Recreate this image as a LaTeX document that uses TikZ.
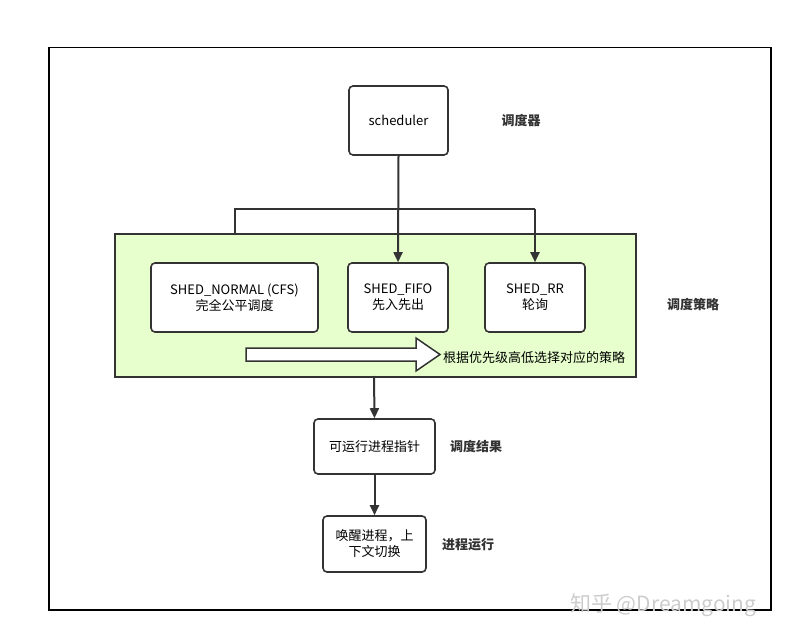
\documentclass[tikz,border=0pt]{standalone}
\usepackage{fontspec}
\setmainfont{Noto Sans CJK SC}
\usetikzlibrary{arrows.meta}
\definecolor{lineC}{HTML}{333333}
\definecolor{greenF}{HTML}{E6FFCC}
\begin{document}
\begin{tikzpicture}[x=1pt,y=-1pt,
  box/.style={draw=lineC,line width=1.6pt,rounded corners=4pt,fill=white,align=center,font=\fontsize{13}{16}\selectfont,inner sep=0pt},
  lbl/.style={font=\fontsize{13}{16}\selectfont\bfseries,text=lineC},
  conn/.style={draw=lineC,line width=2pt},
  arr/.style={conn,-{Triangle[length=10pt,width=9pt]}}]
\useasboundingbox (0,0) rectangle (805,642);
\node[draw=black,line width=1.5pt,minimum width=722pt,minimum height=562pt,anchor=north west] (frame) at (48,47) {};
\node[box,minimum width=99pt,minimum height=69pt] (sched) at (398.5,120.5) {scheduler};
\node[lbl] (l1) at (521,121) {调度器};
\node[draw=lineC,line width=1.5pt,fill=greenF,minimum width=521pt,minimum height=143pt,anchor=north west,inner sep=0pt] (green) at (114,233) {};
\node[box,minimum width=167pt,minimum height=69pt] (normal) at (234.5,297.5) {SHED\_NORMAL (CFS)\\完全公平调度};
\node[box,minimum width=100pt,minimum height=69pt] (fifo) at (398,297.5) {SHED\_FIFO\\先入先出};
\node[box,minimum width=100pt,minimum height=69pt] (rr) at (535,297.5) {SHED\_RR\\轮询};
\node[lbl] (l2) at (693,305) {调度策略};
\draw[draw=lineC,line width=1.5pt,fill=white,line join=miter] (246,348) -- (416,348) -- (416,338) -- (440,354.5) -- (416,371) -- (416,361) -- (246,361) -- cycle;
\node[anchor=west,font=\fontsize{13}{16}\selectfont,inner sep=0pt] (note) at (443,358) {根据优先级高低选择对应的策略};
\node[box,minimum width=121pt,minimum height=55pt] (result) at (374.5,446.5) {可运行进程指针};
\node[lbl] (l3) at (476,446) {调度结果};
\node[box,minimum width=103pt,minimum height=56pt,text width=86pt] (run) at (374.5,544) {唤醒进程，上\\下文切换};
\node[lbl] (l4) at (468,545) {进程运行};
\coordinate (bL) at (235,209);
\coordinate (bR) at (535,209);
\draw[arr] (sched.south) -- (fifo.north);
\draw[conn] (bL |- green.north) -- (bL) -- (bR);
\draw[arr] (bR) -- (rr.north);
\draw[arr] (374,376) -- (result.north);
\draw[arr] (result.south) -- (run.north);
\node[text=gray!40,font=\fontsize{21}{24}\selectfont,anchor=west,inner sep=0pt] (wm) at (570,605) {知乎 @Dreamgoing};
\end{tikzpicture}
\end{document}
